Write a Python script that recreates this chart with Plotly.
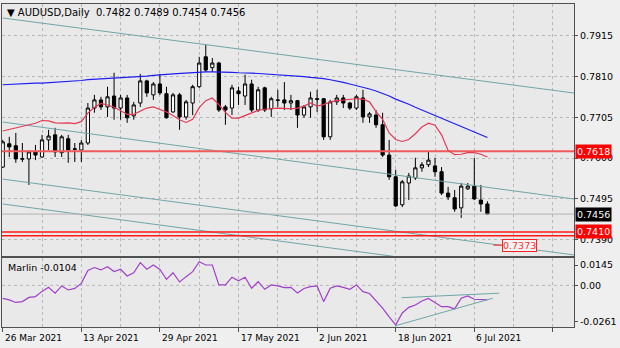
import pandas as pd
import plotly.graph_objects as go

# ---- daily AUDUSD bars (26 Mar 2021 .. 8 Jul 2021) ----
dates = pd.bdate_range("2021-03-26", "2021-07-08")
bars = list(range(len(dates)))

opens = [0.7577, 0.7637, 0.7632, 0.7597, 0.7598, 0.7616, 0.7603, 0.7647, 0.7660, 0.7614,
         0.7650, 0.7624, 0.7621, 0.7639, 0.7729, 0.7750, 0.7732, 0.7760, 0.7729, 0.7755,
         0.7709, 0.7742, 0.7799, 0.7763, 0.7791, 0.7766, 0.7719, 0.7763, 0.7706, 0.7742,
         0.7784, 0.7861, 0.7833, 0.7845, 0.7732, 0.7729, 0.7773, 0.7760, 0.7791, 0.7724,
         0.7781, 0.7727, 0.7750, 0.7750, 0.7742, 0.7748, 0.7711, 0.7732, 0.7751, 0.7753,
         0.7655, 0.7745, 0.7755, 0.7742, 0.7729, 0.7755, 0.7706, 0.7711, 0.7686, 0.7608,
         0.7552, 0.7480, 0.7536, 0.7549, 0.7575, 0.7583, 0.7580, 0.7565, 0.7510, 0.7498,
         0.7472, 0.7521, 0.7528, 0.7492, 0.7482]
highs = [0.7647, 0.7655, 0.7665, 0.7639, 0.7621, 0.7634, 0.7660, 0.7673, 0.7678, 0.7660,
         0.7660, 0.7639, 0.7647, 0.7742, 0.7763, 0.7758, 0.7784, 0.7820, 0.7763, 0.7763,
         0.7745, 0.7817, 0.7802, 0.7796, 0.7817, 0.7784, 0.7768, 0.7768, 0.7750, 0.7789,
         0.7861, 0.7892, 0.7858, 0.7848, 0.7737, 0.7789, 0.7784, 0.7815, 0.7802, 0.7784,
         0.7784, 0.7758, 0.7776, 0.7796, 0.7763, 0.7750, 0.7737, 0.7771, 0.7776, 0.7755,
         0.7750, 0.7763, 0.7763, 0.7745, 0.7763, 0.7776, 0.7719, 0.7724, 0.7717, 0.7647,
         0.7570, 0.7544, 0.7562, 0.7601, 0.7590, 0.7616, 0.7601, 0.7577, 0.7526, 0.7518,
         0.7536, 0.7536, 0.7601, 0.7531, 0.7489]
lows = [0.7575, 0.7603, 0.7588, 0.7590, 0.7531, 0.7595, 0.7601, 0.7621, 0.7603, 0.7603,
        0.7588, 0.7590, 0.7590, 0.7634, 0.7717, 0.7724, 0.7706, 0.7699, 0.7699, 0.7691,
        0.7699, 0.7732, 0.7758, 0.7750, 0.7763, 0.7702, 0.7717, 0.7673, 0.7699, 0.7711,
        0.7781, 0.7822, 0.7822, 0.7719, 0.7686, 0.7711, 0.7737, 0.7737, 0.7719, 0.7719,
        0.7719, 0.7706, 0.7732, 0.7724, 0.7724, 0.7678, 0.7704, 0.7704, 0.7719, 0.7647,
        0.7647, 0.7737, 0.7729, 0.7724, 0.7724, 0.7691, 0.7691, 0.7678, 0.7603, 0.7544,
        0.7474, 0.7474, 0.7492, 0.7544, 0.7565, 0.7577, 0.7552, 0.7505, 0.7492, 0.7462,
        0.7446, 0.7518, 0.7492, 0.7462, 0.7454]
closes = [0.7642, 0.7629, 0.7598, 0.7599, 0.7616, 0.7608, 0.7647, 0.7657, 0.7616, 0.7655,
          0.7621, 0.7623, 0.7639, 0.7729, 0.7750, 0.7732, 0.7758, 0.7729, 0.7755, 0.7704,
          0.7737, 0.7799, 0.7768, 0.7791, 0.7768, 0.7704, 0.7763, 0.7706, 0.7745, 0.7784,
          0.7845, 0.7827, 0.7845, 0.7724, 0.7724, 0.7781, 0.7766, 0.7791, 0.7724, 0.7776,
          0.7724, 0.7753, 0.7749, 0.7742, 0.7748, 0.7711, 0.7732, 0.7755, 0.7753, 0.7655,
          0.7745, 0.7755, 0.7742, 0.7729, 0.7758, 0.7706, 0.7714, 0.7686, 0.7608, 0.7552,
          0.7477, 0.7539, 0.7554, 0.7575, 0.7583, 0.7595, 0.7565, 0.7510, 0.7500, 0.7469,
          0.7528, 0.7528, 0.7495, 0.7482, 0.7456]

# short moving average (red)
ma_fast = [0.7670, 0.7674, 0.7679, 0.7683, 0.7686, 0.7690, 0.7697, 0.7696, 0.7691, 0.7690,
           0.7691, 0.7689, 0.7694, 0.7716, 0.7731, 0.7741, 0.7737, 0.7731, 0.7722, 0.7713,
           0.7713, 0.7721, 0.7729, 0.7732, 0.7726, 0.7719, 0.7710, 0.7699, 0.7692, 0.7700,
           0.7730, 0.7748, 0.7755, 0.7738, 0.7718, 0.7703, 0.7703, 0.7710, 0.7716, 0.7723,
           0.7726, 0.7728, 0.7729, 0.7728, 0.7727, 0.7729, 0.7734, 0.7742, 0.7734, 0.7738,
           0.7745, 0.7748, 0.7750, 0.7751, 0.7753, 0.7752, 0.7745, 0.7720, 0.7700, 0.7665,
           0.7648, 0.7643, 0.7648, 0.7663, 0.7680, 0.7690, 0.7685, 0.7660, 0.7620, 0.7609,
           0.7610, 0.7614, 0.7614, 0.7610, 0.7603]
# long moving average (blue)
ma_slow = [0.7789, 0.7790, 0.7790, 0.7791, 0.7792, 0.7793, 0.7793, 0.7794, 0.7795, 0.7796,
           0.7798, 0.7799, 0.7800, 0.7802, 0.7803, 0.7804, 0.7805, 0.7805, 0.7806, 0.7807,
           0.7808, 0.7810, 0.7811, 0.7813, 0.7815, 0.7816, 0.7817, 0.7818, 0.7820, 0.7821,
           0.7822, 0.7822, 0.7822, 0.7822, 0.7821, 0.7821, 0.7820, 0.7820, 0.7819, 0.7818,
           0.7817, 0.7816, 0.7815, 0.7814, 0.7813, 0.7811, 0.7810, 0.7808, 0.7807, 0.7805,
           0.7802, 0.7799, 0.7795, 0.7791, 0.7787, 0.7783, 0.7778, 0.7773, 0.7767, 0.7760,
           0.7752, 0.7746, 0.7739, 0.7731, 0.7724, 0.7716, 0.7709, 0.7702, 0.7696, 0.7689,
           0.7683, 0.7676, 0.7669, 0.7661, 0.7653]

# Marlin oscillator
marlin = [-0.0093, -0.0104, -0.0122, -0.0116, -0.0086, -0.0080, -0.0043, -0.0014, -0.0056, -0.0004,
          -0.0033, -0.0022, 0.0014, 0.0106, 0.0127, 0.0110, 0.0133, 0.0099, 0.0115, 0.0067,
          0.0090, 0.0162, 0.0115, 0.0145, 0.0113, 0.0043, 0.0090, 0.0024, 0.0062, 0.0098,
          0.0169, 0.0145, 0.0145, 0.0003, 0.0003, 0.0058, 0.0033, 0.0058, -0.0021, 0.0026,
          -0.0028, 0.0003, -0.0004, -0.0016, -0.0014, -0.0054, -0.0022, -0.0009, -0.0004, -0.0116,
          -0.0021, -0.0004, -0.0014, -0.0028, 0.0003, -0.0045, -0.0058, -0.0111, -0.0163, -0.0225,
          -0.0282, -0.0197, -0.0157, -0.0140, -0.0111, -0.0093, -0.0122, -0.0152, -0.0152, -0.0168,
          -0.0092, -0.0075, -0.0099, -0.0100, -0.0104]

# price channel trendlines: (bar, price) endpoints
channel_lines = [
    ((0, 0.7961), (88, 0.7766)),
    ((0, 0.7693), (88, 0.7493)),
    ((0, 0.7546), (88, 0.7349)),
    ((0, 0.7482), (88, 0.7283)),
]
# divergence lines on the oscillator
marlin_lines = [
    ((60.9, -0.0088), (75.8, -0.0056)),
    ((59.9, -0.0289), (74.8, -0.0092)),
]

resistance = 0.7618
supports = [0.7410, 0.7400]
target = 0.7373
last_price = 0.7456

price_ticks = [0.7915, 0.7810, 0.7705, 0.7600, 0.7495, 0.7390]
marlin_ticks = [0.0145, 0.0, -0.0261]
marlin_tick_text = ["0.0145", "0.00", "-0.0261"]

label_step = 12
grid_step = 6
x_range = [-0.11, 87.22]
price_range = [0.7348, 0.7997]
marlin_range = [-0.0297, 0.0195]

FONT = "DejaVu Sans"
FS = 9.5
GRID = "#B8B8B8"
FRAME = "#505050"
CHANNEL = "#6FA6A8"

fig = go.Figure()

for (x0, y0), (x1, y1) in channel_lines:
    fig.add_trace(go.Scatter(x=[x0, x1], y=[y0, y1], mode="lines",
                             line=dict(color=CHANNEL, width=1),
                             xaxis="x", yaxis="y", hoverinfo="skip"))

for lvl in supports:
    fig.add_trace(go.Scatter(x=[x_range[0], x_range[1]], y=[lvl, lvl], mode="lines",
                             line=dict(color="#FF1A1A", width=1.5),
                             xaxis="x", yaxis="y", hoverinfo="skip"))
fig.add_trace(go.Scatter(x=[x_range[0], x_range[1]], y=[resistance, resistance], mode="lines",
                         line=dict(color="#F05A5A", width=2),
                         xaxis="x", yaxis="y", hoverinfo="skip"))
fig.add_trace(go.Scatter(x=[x_range[0], x_range[1]], y=[last_price, last_price], mode="lines",
                         line=dict(color="#B4B4B4", width=1),
                         xaxis="x", yaxis="y", hoverinfo="skip"))

fig.add_trace(go.Scatter(x=bars, y=ma_slow, mode="lines",
                         line=dict(color="#1E1EF0", width=1.2),
                         xaxis="x", yaxis="y", hoverinfo="skip"))
fig.add_trace(go.Scatter(x=bars, y=ma_fast, mode="lines",
                         line=dict(color="#E23A55", width=1.2),
                         xaxis="x", yaxis="y", hoverinfo="skip"))

fig.add_trace(go.Candlestick(
    x=bars, open=opens, high=highs, low=lows, close=closes,
    increasing=dict(line=dict(color="black", width=1), fillcolor="white"),
    decreasing=dict(line=dict(color="black", width=1), fillcolor="black"),
    whiskerwidth=0, xaxis="x", yaxis="y", text=[d.strftime("%d %b %Y") for d in dates],
))

# target marker near 0.7373
fig.add_trace(go.Scatter(x=[74.9, 76.2], y=[target + 0.0003, target + 0.0003], mode="lines",
                         line=dict(color="#FF2020", width=1),
                         xaxis="x", yaxis="y", hoverinfo="skip"))

# oscillator panel
fig.add_trace(go.Scatter(x=bars, y=marlin, mode="lines",
                         line=dict(color="#A040C8", width=1.2),
                         xaxis="x2", yaxis="y2", hoverinfo="skip"))
for (x0, y0), (x1, y1) in marlin_lines:
    fig.add_trace(go.Scatter(x=[x0, x1], y=[y0, y1], mode="lines",
                             line=dict(color=CHANNEL, width=1),
                             xaxis="x2", yaxis="y2", hoverinfo="skip"))

major = list(range(0, 85, label_step))
minor = [v for v in range(0, 88, grid_step) if v % label_step]
labelled = [i for i in range(0, len(dates), label_step)]

axis_common = dict(showline=True, mirror=True, linecolor=FRAME, linewidth=1,
                   zeroline=False, fixedrange=True)

fig.update_layout(
    width=620, height=348,
    margin=dict(l=2, r=46, t=4, b=21),
    paper_bgcolor="#EFEFEF", plot_bgcolor="#E9E9E9",
    showlegend=False,
    font=dict(family=FONT, size=FS, color="black"),
    xaxis=dict(domain=[0, 1], anchor="y", range=x_range,
               tickvals=list(range(0, 88, grid_step)), showticklabels=False, ticks="",
               showgrid=True, gridcolor=GRID, griddash="dot", gridwidth=1,
               rangeslider=dict(visible=False), **axis_common),
    yaxis=dict(domain=[0.2198, 1], anchor="x", side="right", range=price_range,
               tickvals=price_ticks, tickformat=".4f", ticks="outside", ticklen=3,
               tickcolor=FRAME, showgrid=True, gridcolor=GRID, griddash="dot",
               tickfont=dict(family=FONT, size=FS, color="black"), **axis_common),
    xaxis2=dict(domain=[0, 1], anchor="y2", range=x_range,
                tickvals=major, showticklabels=False, ticks="outside", ticklen=4,
                tickcolor=FRAME, showgrid=True, gridcolor=GRID, griddash="dot",
                minor=dict(tickvals=minor, showgrid=True, gridcolor=GRID, griddash="dot", ticks=""),
                **axis_common),
    yaxis2=dict(domain=[0, 0.2136], anchor="x2", side="right", range=marlin_range,
                tickvals=marlin_ticks, ticktext=marlin_tick_text, ticks="outside", ticklen=3,
                tickcolor=FRAME, showgrid=False,
                tickfont=dict(family=FONT, size=FS, color="black"), **axis_common),
)

# zero line of the oscillator
fig.add_shape(type="line", xref="x2", yref="y2", x0=x_range[0], x1=x_range[1], y0=0, y1=0,
              line=dict(color=GRID, width=1, dash="dot"), layer="below")

ann = []
for i in labelled:
    ann.append(dict(x=i, y=0, xref="x2", yref="paper", xanchor="left", yanchor="top",
                    yshift=-4, xshift=0, showarrow=False,
                    text=f"{dates[i].day} {dates[i].strftime('%b %Y')}",
                    font=dict(family=FONT, size=9, color="black")))

def price_box(value, text, bg):
    return dict(x=1, y=value, xref="paper", yref="y", xanchor="left", yanchor="middle",
                xshift=1, showarrow=False, text=text, bgcolor=bg, borderpad=1,
                font=dict(family=FONT, size=FS, color="white"))

ann.append(price_box(resistance, f"{resistance:.4f}", "#FF0000"))
ann.append(price_box(last_price, f"{last_price:.4f}", "#000000"))
ann.append(price_box(supports[0], f"{supports[0]:.4f}", "#FF0000"))

ann.append(dict(x=76.3, y=target + 0.0003, xref="x", yref="y", xanchor="left", yanchor="middle",
                showarrow=False, text=f"{target:.4f}", bgcolor="#F4F4F4",
                bordercolor="#FF2020", borderwidth=1, borderpad=0,
                font=dict(family=FONT, size=FS, color="#FF3030")))

ann.append(dict(x=0, y=1, xref="paper", yref="paper", xanchor="left", yanchor="top",
                xshift=3, yshift=-1, showarrow=False,
                text=f"\u25BC AUDUSD,Daily  {opens[-1]:.4f} {highs[-1]:.4f} {lows[-1]:.4f} {closes[-1]:.4f}",
                font=dict(family=FONT, size=10, color="black")))

ann.append(dict(x=0, y=0.2136, xref="paper", yref="paper", xanchor="left", yanchor="top",
                xshift=4, yshift=-2, showarrow=False,
                text=f"Marlin {marlin[-1]:.4f}",
                font=dict(family=FONT, size=FS, color="black")))

fig.update_layout(annotations=ann)

fig.write_html("out.html")
